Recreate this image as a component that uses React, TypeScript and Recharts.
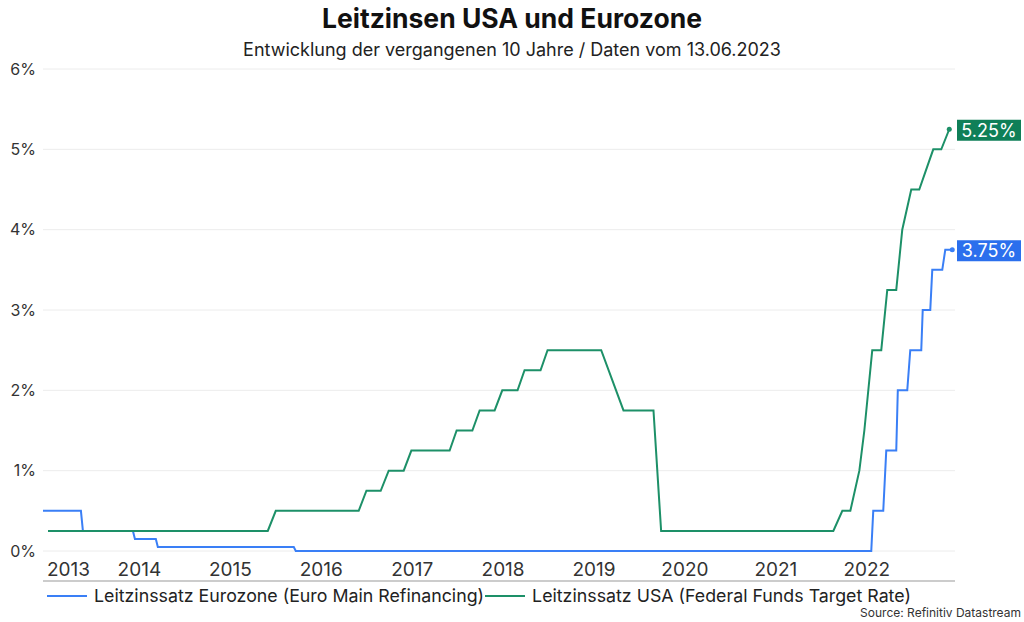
import React from 'react';
import { LineChart, Line, XAxis, YAxis, CartesianGrid } from 'recharts';

const X_DOMAIN: [number, number] = [2013.44, 2023.47];
const YEAR_TICKS = [2014, 2015, 2016, 2017, 2018, 2019, 2020, 2021, 2022, 2023];
const YEAR_LABELS = [2013, 2014, 2015, 2016, 2017, 2018, 2019, 2020, 2021, 2022];
const Y_TICKS = [0, 1, 2, 3, 4, 5, 6];

// Euro main refinancing rate (decimal year, percent)
const euroT = [2013.44, 2013.857, 2013.879, 2014.429, 2014.451, 2014.681, 2014.703, 2016.198, 2016.22, 2022.549, 2022.571, 2022.681, 2022.714, 2022.824, 2022.841, 2022.945, 2022.978, 2023.099, 2023.115, 2023.198, 2023.22, 2023.33, 2023.363, 2023.44];
const euroV = [0.5, 0.5, 0.25, 0.25, 0.15, 0.15, 0.05, 0.05, 0, 0, 0.5, 0.5, 1.25, 1.25, 2.0, 2.0, 2.5, 2.5, 3.0, 3.0, 3.5, 3.5, 3.75, 3.75];

// US federal funds target rate (decimal year, percent)
const usT = [2013.495, 2015.912, 2016.0, 2016.912, 2016.997, 2017.154, 2017.242, 2017.407, 2017.491, 2017.912, 2017.989, 2018.162, 2018.242, 2018.407, 2018.491, 2018.659, 2018.736, 2018.912, 2018.989, 2019.579, 2019.824, 2020.154, 2020.238, 2022.132, 2022.231, 2022.319, 2022.418, 2022.473, 2022.56, 2022.659, 2022.725, 2022.824, 2022.89, 2022.989, 2023.077, 2023.154, 2023.231, 2023.319, 2023.407];
const usV = [0.25, 0.25, 0.5, 0.5, 0.75, 0.75, 1.0, 1.0, 1.25, 1.25, 1.5, 1.5, 1.75, 1.75, 2.0, 2.0, 2.25, 2.25, 2.5, 2.5, 1.75, 1.75, 0.25, 0.25, 0.5, 0.5, 1.0, 1.5, 2.5, 2.5, 3.25, 3.25, 4.0, 4.5, 4.5, 4.75, 5.0, 5.0, 5.25];

const SERIES_NAMES = ['Leitzinssatz Eurozone (Euro Main Refinancing)', 'Leitzinssatz USA (Federal Funds Target Rate)'];
const BLUE = '#3a7ff6';
const BLUE_BOX = '#2b6fed';
const GREEN = '#1d9068';
const GREEN_BOX = '#0f7f58';

const euroData = euroT.map((t, i) => ({ t, v: euroV[i] }));
const usData = usT.map((t, i) => ({ t, v: usV[i] }));

const labelTicks = YEAR_LABELS.map((y) => (Math.max(y, X_DOMAIN[0]) + Math.min(y + 1, X_DOMAIN[1])) / 2);

const FONT = 'Inter, "Noto Sans", sans-serif';

function endDot(color: string, boxColor: string, count: number) {
  return (props: any) => {
    const { cx, cy, index } = props;
    if (index !== count - 1) return <g key={`d${index}`} />;
    const val = props.payload.v;
    return (
      <g key={`d${index}`}>
        <circle cx={cx} cy={cy} r={2.5} fill={color} />
        <rect x={957} y={cy - 9.5} width={64} height={21} fill={boxColor} />
        <text x={989} y={cy + 1} dy="0.36em" textAnchor="middle" fill="#fff" fontSize={18} fontFamily={FONT}>
          {val.toFixed(2)}%
        </text>
      </g>
    );
  };
}

const YTick = (props: any) => {
  const { y, payload } = props;
  return (
    <text x={36} y={y} dy="0.36em" textAnchor="end" fill="#333" fontSize={16} fontFamily={FONT}>
      {payload.value}%
    </text>
  );
};

const XLabelTick = (props: any) => {
  const { x, payload } = props;
  return (
    <text x={x} y={576} textAnchor="middle" fill="#333" fontSize={19} fontFamily={FONT}>
      {Math.floor(payload.value)}
    </text>
  );
};

export default function App() {
  return (
    <div style={{ position: 'absolute', left: 0, top: 0, width: 1024, height: 622, background: '#fff', fontFamily: FONT }}>
      <div style={{ position: 'absolute', left: 0, top: 2, width: 1024, textAlign: 'center', fontSize: 26.5, fontWeight: 700, color: '#111' }}>
        Leitzinsen USA und Eurozone
      </div>
      <div style={{ position: 'absolute', left: 0, top: 39, width: 1024, textAlign: 'center', fontSize: 18, color: '#222' }}>
        Entwicklung der vergangenen 10 Jahre / Daten vom 13.06.2023
      </div>
      <LineChart width={1024} height={622} data={euroData} margin={{ top: 69, right: 69, left: 3, bottom: 35 }}>
        <CartesianGrid horizontal vertical={false} stroke="#ececec" strokeWidth={1} />
        <XAxis
          xAxisId="years"
          type="number"
          dataKey="t"
          domain={X_DOMAIN}
          ticks={YEAR_TICKS}
          tick={false}
          tickLine={{ stroke: '#999' }}
          tickSize={4}
          axisLine={{ stroke: '#cccccc', strokeWidth: 2 }}
          height={6}
          interval={0}
        />
        <XAxis
          xAxisId="labels"
          type="number"
          dataKey="t"
          domain={X_DOMAIN}
          ticks={labelTicks}
          tick={<XLabelTick />}
          tickLine={false}
          axisLine={false}
          height={30}
          interval={0}
        />
        <YAxis
          type="number"
          domain={[0, 6]}
          ticks={Y_TICKS}
          tick={<YTick />}
          axisLine={false}
          tickLine={false}
          width={40}
          interval={0}
        />
        <Line
          xAxisId="years"
          data={euroData}
          dataKey="v"
          type="linear"
          stroke={BLUE}
          strokeWidth={2}
          dot={endDot(BLUE, BLUE_BOX, euroData.length)}
          activeDot={false}
          isAnimationActive={false}
        />
        <Line
          xAxisId="years"
          data={usData}
          dataKey="v"
          type="linear"
          stroke={GREEN}
          strokeWidth={2}
          dot={endDot(GREEN, GREEN_BOX, usData.length)}
          activeDot={false}
          isAnimationActive={false}
        />
      </LineChart>
      <div style={{ position: 'absolute', left: 47, top: 585, display: 'flex', alignItems: 'center', fontSize: 17.8, color: '#222', whiteSpace: 'nowrap' }}>
        <span style={{ display: 'inline-block', width: 40, height: 2, background: BLUE, marginRight: 7 }} />
        <span>{SERIES_NAMES[0]}</span>
        <span style={{ display: 'inline-block', width: 40, height: 2, background: GREEN, marginLeft: 1, marginRight: 7 }} />
        <span>{SERIES_NAMES[1]}</span>
      </div>
      <div style={{ position: 'absolute', right: 3, top: 605, fontSize: 12, color: '#333' }}>
        Source: Refinitiv Datastream
      </div>
    </div>
  );
}
